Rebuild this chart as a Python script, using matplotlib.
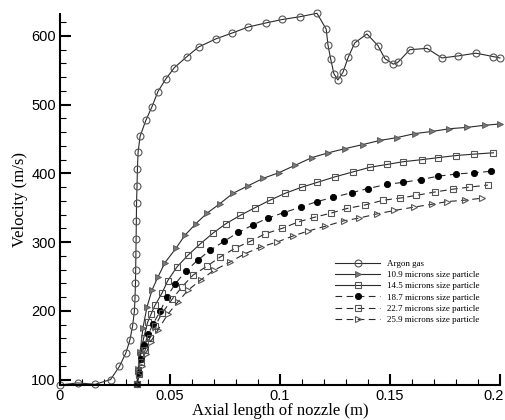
import matplotlib
matplotlib.use("Agg")
import matplotlib.pyplot as plt
from matplotlib.ticker import MultipleLocator
from matplotlib.transforms import ScaledTranslation

# ---- data ----
argon_x = [0.000, 0.008, 0.016, 0.023, 0.027, 0.030, 0.0318, 0.033, 0.0338, 0.0341,
           0.0343, 0.0344, 0.0345, 0.0346, 0.0347, 0.0348, 0.0350, 0.0352, 0.0355, 0.0364,
           0.039, 0.0418, 0.0445, 0.048, 0.052, 0.0577, 0.063, 0.071, 0.078, 0.0855,
           0.0936, 0.101, 0.109, 0.1168, 0.121, 0.1218, 0.123, 0.1245, 0.1263, 0.1286,
           0.131, 0.134, 0.1395, 0.1445, 0.1477, 0.1515, 0.1537, 0.159, 0.1668, 0.1736,
           0.181, 0.189, 0.197, 0.200]
argon_v = [92, 95, 93, 100, 119, 139, 158, 178, 199, 219,
           240, 260, 283, 305, 331, 357, 381, 407, 431, 454,
           477, 497, 519, 537, 554, 570, 584, 596, 604, 613,
           619, 624, 628, 633, 610, 587, 567, 545, 536, 547,
           569, 590, 603, 586, 567, 559, 562, 580, 582, 568,
           571, 575, 570, 568]

p109_x = [0.0350, 0.0355, 0.0364, 0.0377, 0.0395, 0.0418, 0.0445, 0.0477, 0.0527, 0.0568,
          0.0618, 0.0668, 0.0727, 0.0786, 0.0855, 0.0925, 0.0995, 0.107, 0.1145, 0.122,
          0.1295, 0.1377, 0.1455, 0.153, 0.1614, 0.169, 0.177, 0.185, 0.193, 0.200]
p109_v = [93, 115, 140, 175, 205, 230, 249, 270, 291, 310,
          327, 342, 356, 371, 382, 393, 401, 412, 423, 430,
          436, 442, 448, 452, 458, 461, 465, 467, 470, 472]

p145_x = [0.0350, 0.0356, 0.0366, 0.0380, 0.0398, 0.0415, 0.0432, 0.0464, 0.049, 0.0532,
          0.0582, 0.0636, 0.0695, 0.0755, 0.082, 0.0886, 0.0955, 0.1023, 0.110, 0.117,
          0.125, 0.133, 0.141, 0.1486, 0.156, 0.1645, 0.172, 0.180, 0.188, 0.197]
p145_v = [93, 112, 135, 160, 183, 196, 208, 226, 244, 264,
          281, 297, 313, 327, 339, 350, 361, 371, 380, 387,
          395, 402, 409, 413, 417, 420, 423, 426, 428, 430]

p187_x = [0.0350, 0.0357, 0.0368, 0.0383, 0.0402, 0.0423, 0.0455, 0.0486, 0.0523, 0.0573,
          0.0627, 0.0682, 0.0745, 0.081, 0.0877, 0.0945, 0.1018, 0.1095, 0.1168, 0.124,
          0.1327, 0.140, 0.1486, 0.156, 0.164, 0.172, 0.180, 0.188, 0.196]
p187_v = [93, 110, 130, 150, 166, 181, 199, 220, 239, 258,
          274, 288, 301, 314, 325, 335, 343, 351, 359, 365,
          372, 378, 384, 387, 391, 396, 399, 401, 403]

p227_x = [0.0350, 0.0358, 0.0370, 0.0387, 0.0408, 0.0432, 0.0465, 0.051, 0.0555, 0.0605,
          0.0668, 0.0727, 0.0795, 0.0864, 0.0932, 0.101, 0.108, 0.1155, 0.123, 0.1305,
          0.1386, 0.147, 0.1545, 0.162, 0.1705, 0.1786, 0.186, 0.1945]
p227_v = [93, 108, 125, 143, 160, 178, 197, 217, 235, 252,
          265, 278, 291, 301, 312, 320, 329, 336, 342, 349,
          354, 361, 364, 368, 373, 377, 380, 383]

p259_x = [0.0350, 0.0359, 0.0372, 0.0390, 0.0412, 0.0445, 0.0490, 0.0536, 0.0582, 0.064,
          0.070, 0.0773, 0.084, 0.0914, 0.0986, 0.106, 0.1127, 0.1205, 0.129, 0.136,
          0.144, 0.152, 0.161, 0.169, 0.176, 0.184, 0.192]
p259_v = [93, 106, 120, 137, 155, 172, 195, 213, 230, 245,
          259, 271, 283, 293, 300, 309, 316, 323, 331, 335,
          341, 346, 351, 355, 359, 361, 364]

labels = ["Argon gas", "10.9 microns size particle", "14.5 microns size particle",
          "18.7 microns size particle", "22.7 microns size particle",
          "25.9 microns size particle"]

x_ticks = [0, 0.05, 0.1, 0.15, 0.2]
x_ticklabels = ["0", "0.05", "0.1", "0.15", "0.2"]
y_ticks = [100, 200, 300, 400, 500, 600]

# ---- figure ----
fig = plt.figure(figsize=(5.06, 4.2), dpi=100)
ax = fig.add_axes([60/506, 1-385/420, 440/506, 371/420])

lc = "#2a2a2a"
mc = "#555555"
common = dict(color=lc, lw=0.8, clip_on=False)

ax.plot(argon_x, argon_v, marker="o", ms=5, mfc="none", mec=mc, mew=0.8,
        label=labels[0], **common)
ax.plot(p109_x, p109_v, marker=">", ms=4, mfc="#777777", mec=mc, mew=0.6,
        label=labels[1], **common)
ax.plot(p145_x, p145_v, marker="s", ms=4.5, mfc="none", mec=mc, mew=0.8,
        label=labels[2], **common)
ax.plot(p187_x, p187_v, marker="o", ms=4.5, mfc="black", mec="black", mew=0.6,
        ls=(0, (6, 4)), label=labels[3], **common)
ax.plot(p227_x, p227_v, marker="s", ms=4.5, mfc="none", mec=mc, mew=0.8,
        ls=(0, (6, 4)), label=labels[4], **common)
ax.plot(p259_x, p259_v, marker=">", ms=4.5, mfc="none", mec=mc, mew=0.8,
        ls=(0, (6, 4)), label=labels[5], **common)

ax.set_xlim(0, 0.2)
ax.set_ylim(92, 632)

for s in ["top", "right"]:
    ax.spines[s].set_visible(False)
for s in ["left", "bottom"]:
    ax.spines[s].set_linewidth(1.5)
    ax.spines[s].set_color("black")

ax.set_xticks(x_ticks)
ax.set_xticklabels(x_ticklabels)
ax.set_yticks(y_ticks)
ax.xaxis.set_minor_locator(MultipleLocator(0.01))
ax.yaxis.set_minor_locator(MultipleLocator(20))
ax.tick_params(which="major", direction="in", length=8, width=1.5, labelsize=10.5,
               pad=3)
ax.tick_params(which="minor", direction="in", length=4, width=0.8)
for lab in ax.get_xticklabels() + ax.get_yticklabels():
    lab.set_fontfamily("Liberation Sans")
# the last x tick label sits at the figure edge; nudge it slightly left
last = ax.get_xticklabels()[-1]
last.set_transform(last.get_transform() + ScaledTranslation(-6/100, 0, fig.dpi_scale_trans))

ax.set_xlabel("Axial length of nozzle (m)", fontfamily="Liberation Serif",
              fontsize=12, labelpad=0)
ax.set_ylabel("Velocity (m/s)", fontfamily="Liberation Serif", fontsize=12,
              labelpad=2)

leg = ax.legend(loc="upper left", bbox_to_anchor=(0.615, 0.35), frameon=False,
                prop={"family": "Liberation Serif", "size": 6.5},
                handlelength=5.0, labelspacing=0.32, handletextpad=0.8,
                borderpad=0)

fig.savefig("out.png", dpi=100)
